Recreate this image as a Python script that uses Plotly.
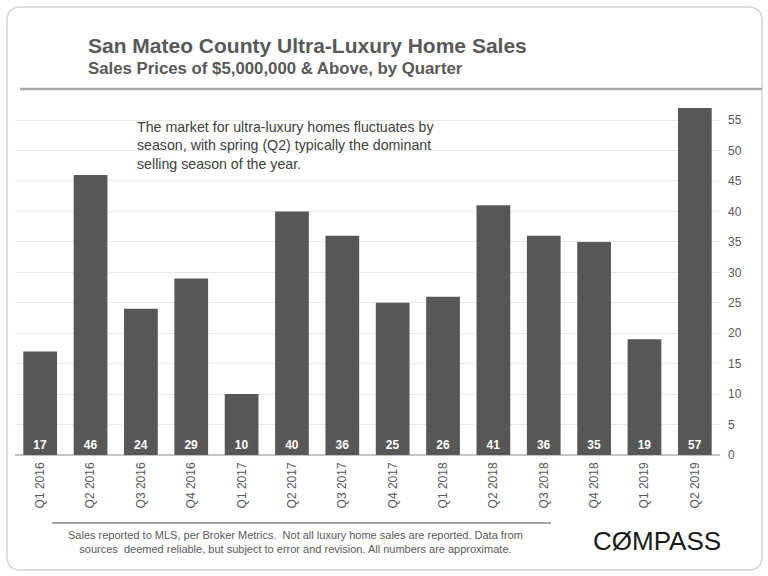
import plotly.graph_objects as go

quarters = ["Q1 2016", "Q2 2016", "Q3 2016", "Q4 2016", "Q1 2017", "Q2 2017", "Q3 2017",
            "Q4 2017", "Q1 2018", "Q2 2018", "Q3 2018", "Q4 2018", "Q1 2019", "Q2 2019"]
sales = [17, 46, 24, 29, 10, 40, 36, 25, 26, 41, 36, 35, 19, 57]
y_ticks = [0, 5, 10, 15, 20, 25, 30, 35, 40, 45, 50, 55]

W, H = 768, 576
L, R, T, B = 15, 48, 100, 121
PW, PH = W - L - R, H - T - B

def px(x):
    return (x - L) / PW

def py(y):
    return (H - B - y) / PH

SANS = "Liberation Sans, Arial, sans-serif"
GREY = "#595959"

fig = go.Figure()
fig.add_trace(go.Bar(
    x=quarters, y=sales,
    marker=dict(color="#575757", line=dict(width=0)),
    text=[str(v) for v in sales],
    textposition="inside", insidetextanchor="start",
    textangle=0,
    textfont=dict(family=SANS, size=12, color="white", weight="bold"),
    cliponaxis=False,
    hoverinfo="skip",
))

x0, x1, y0, y1 = 7, 762, 7, 570
r = 14
path = (f"M {px(x0 + r)},{py(y0)} L {px(x1 - r)},{py(y0)} "
        f"Q {px(x1)},{py(y0)} {px(x1)},{py(y0 + r)} "
        f"L {px(x1)},{py(y1 - r)} Q {px(x1)},{py(y1)} {px(x1 - r)},{py(y1)} "
        f"L {px(x0 + r)},{py(y1)} Q {px(x0)},{py(y1)} {px(x0)},{py(y1 - r)} "
        f"L {px(x0)},{py(y0 + r)} Q {px(x0)},{py(y0)} {px(x0 + r)},{py(y0)} Z")
shapes = [
    dict(type="path", path=path, xref="paper", yref="paper",
         line=dict(color="#d4d4d4", width=1.5), layer="below"),
    dict(type="line", xref="paper", yref="paper", x0=px(20), x1=px(762), y0=py(89), y1=py(89),
         line=dict(color="#a6a6a6", width=2.5)),
    dict(type="line", xref="paper", yref="paper", x0=px(52), x1=px(551), y0=py(523), y1=py(523),
         line=dict(color="#a6a6a6", width=2)),
    dict(type="rect", xref="paper", yref="paper", x0=px(128), x1=px(446), y0=py(188), y1=py(114),
         fillcolor="white", line=dict(width=0), layer="between"),
]

annotations = [
    dict(text="<b>San Mateo County Ultra-Luxury Home Sales</b>", xref="paper", yref="paper",
         x=px(86), y=py(46), xanchor="left", yanchor="middle", showarrow=False,
         font=dict(family=SANS, size=21, color=GREY)),
    dict(text="<b>Sales Prices of $5,000,000 &amp; Above, by Quarter</b>", xref="paper", yref="paper",
         x=px(86), y=py(69), xanchor="left", yanchor="middle", showarrow=False,
         font=dict(family=SANS, size=16.8, color=GREY)),
    dict(text="The market for ultra-luxury homes fluctuates by<br>"
              "season, with spring (Q2) typically the dominant<br>"
              "selling season of the year.",
         xref="paper", yref="paper", x=px(135), y=py(117), xanchor="left", yanchor="top",
         align="left", showarrow=False,
         font=dict(family=SANS, size=14.2, color="#404040")),
    dict(text="Sales reported to MLS, per Broker Metrics.  Not all luxury home sales are reported. Data from<br>"
              "sources  deemed reliable, but subject to error and revision. All numbers are approximate.",
         xref="paper", yref="paper", x=px(295), y=py(542), xanchor="center", yanchor="middle",
         align="center", showarrow=False,
         font=dict(family=SANS, size=11, color=GREY)),
    dict(text="C\u00d8MPASS", xref="paper", yref="paper", x=px(657), y=py(541),
         xanchor="center", yanchor="middle", showarrow=False,
         font=dict(family=SANS, size=26, color="#1a1a1a")),
]

fig.update_layout(
    width=W, height=H,
    margin=dict(l=L, r=R, t=T, b=B, autoexpand=False),
    paper_bgcolor="white", plot_bgcolor="white",
    showlegend=False,
    bargap=0.33,
    shapes=shapes,
    annotations=annotations,
    xaxis=dict(
        type="category", range=[-0.5, 13.5],
        tickangle=-90, showgrid=False, showline=False, ticks="",
        tickfont=dict(family=SANS, size=12, color=GREY),
        zeroline=False,
        ticklabelstandoff=4,
    ),
    yaxis=dict(
        side="right", range=[0, 58.3], tickvals=y_ticks,
        showgrid=True, gridcolor="#e8e8e8", gridwidth=1,
        zeroline=True, zerolinecolor="#c4c4c4", zerolinewidth=1.5,
        showline=False, ticks="",
        tickfont=dict(family=SANS, size=12, color=GREY),
        ticklabelstandoff=7,
    ),
)

fig.write_html("out.html", config={"displayModeBar": False},
               post_script="document.body.style.margin='0';")
